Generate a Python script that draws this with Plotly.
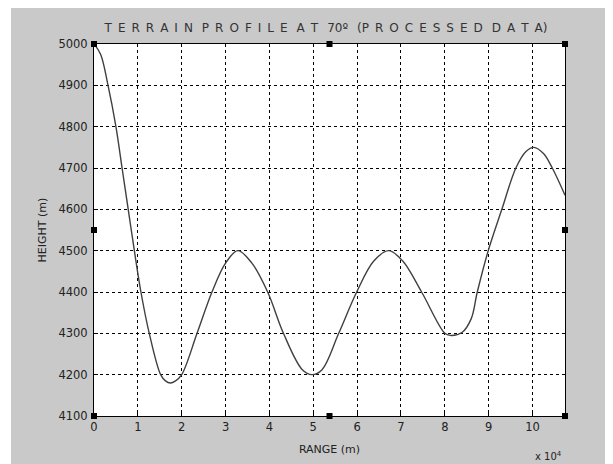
import plotly.graph_objects as go

# terrain profile (range in units of 1e4 m, height in m)
range_e4 = [0.0, 0.15, 0.32, 0.50, 0.64, 0.78, 0.92, 1.07, 1.26, 1.52, 1.63, 1.74, 1.86,
            2.0, 2.35, 2.69, 3.0, 3.28, 3.60, 3.96, 4.32, 4.75, 4.97, 5.20, 5.58,
            5.99, 6.38, 6.72, 7.04, 7.47, 8.0, 8.12, 8.39, 8.60, 8.74, 8.99, 9.30,
            9.62, 9.85, 10.03, 10.25, 10.45, 10.74]
height_m = [5000, 4975, 4900, 4800, 4700, 4600, 4500, 4400, 4300, 4200, 4185, 4180, 4185,
            4200, 4300, 4400, 4470, 4500, 4470, 4400, 4300, 4212, 4200, 4212, 4300,
            4400, 4475, 4500, 4475, 4400, 4300, 4295, 4302, 4335, 4400, 4500, 4600,
            4700, 4740, 4750, 4735, 4700, 4634]

x_ticks = list(range(0, 11))
y_ticks = list(range(4100, 5001, 100))

font = "DejaVu Sans, Verdana, sans-serif"

fig = go.Figure()
fig.add_trace(go.Scatter(x=range_e4, y=height_m, mode="lines",
                         line=dict(color="#404040", width=1.4, shape="spline", smoothing=1.0),
                         showlegend=False, hoverinfo="skip"))

axis_common = dict(showline=True, linecolor="#000", linewidth=1, mirror=True,
                   showgrid=True, gridcolor="#000", griddash="dot", gridwidth=1,
                   ticks="inside", ticklen=4, tickcolor="#000", zeroline=False,
                   automargin=False,
                   tickfont=dict(family=font, size=11.5, color="#222"))

fig.update_xaxes(range=[0, 10.74], tickvals=x_ticks, ticktext=[str(v) for v in x_ticks],
                 title=dict(text="RANGE (m)", font=dict(family=font, size=11, color="#222"), standoff=12),
                 **axis_common)
fig.update_yaxes(range=[4100, 5000], tickvals=y_ticks, ticklabelstandoff=3,
                 title=dict(text="HEIGHT (m)", font=dict(family=font, size=11, color="#222"), standoff=9),
                 **axis_common)

# the page body adds an 8 px offset, so the figure is a little smaller than the window
W, H = 605, 456
plot_l, plot_r, plot_t, plot_b = 86, 48, 36, 48
pw, ph = W - plot_l - plot_r, H - plot_t - plot_b
shapes = [
    dict(type="rect", xref="paper", yref="paper", x0=-plot_l / pw, x1=(3 - plot_l) / pw,
         y0=-plot_b / ph, y1=1 + plot_t / ph, fillcolor="#fff", line=dict(width=0)),
]
# selection handles round the axes box
for hx, hy in [(0, 0), (0.5, 0), (1, 0), (0, 0.5), (1, 0.5), (0, 1), (0.5, 1), (1, 1)]:
    shapes.append(dict(type="rect", xref="x domain", yref="y domain",
                       x0=hx - 3 / pw, x1=hx + 3 / pw, y0=hy - 3 / ph, y1=hy + 3 / ph,
                       fillcolor="#000", line=dict(width=0)))

gap = "\u2002"
word = "\u2002\u2005"
title_text = word.join([
    gap.join("TERRAIN"), gap.join("PROFILE"), gap.join("AT"), "70º",
    "(" + gap.join("PROCESSED"), gap.join("DATA") + ")",
])

fig.update_layout(
    template="none",
    width=W, height=H,
    margin=dict(l=plot_l, r=plot_r, t=plot_t, b=plot_b, autoexpand=False),
    paper_bgcolor="#c9c9c9", plot_bgcolor="#fff",
    shapes=shapes,
    showlegend=False,
    title=dict(text=title_text, x=318 / W, xanchor="center", y=1 - 20 / H, yanchor="middle",
               font=dict(family=font, size=12, color="#333")),
    annotations=[dict(text="x 10<sup>4</sup>", xref="paper", yref="paper", x=0.964, y=-40 / ph,
                      xanchor="center", yanchor="middle", showarrow=False,
                      font=dict(family=font, size=10, color="#222"))],
)

fig.write_html("out.html")
